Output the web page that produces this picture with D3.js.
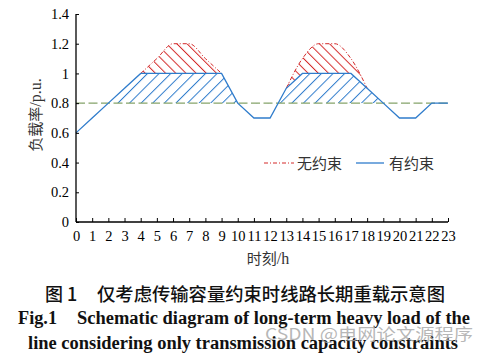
<!DOCTYPE html>
<html><head><meta charset="utf-8">
<script src="https://cdn.jsdelivr.net/npm/d3@7"></script>
<style>body{margin:0;background:#fff}svg{display:block}</style>
</head><body>
<script>
const hours = d3.range(0, 24);
const constrained   = [0.6,0.7,0.8,0.9,1.0,1.0,1.0,1.0,1.0,1.0,0.8,0.7,0.7,0.9,1.0,1.0,1.0,1.0,0.9,0.8,0.7,0.7,0.8,0.8];
const unconstrained = [0.6,0.7,0.8,0.9,1.0,1.1,1.2,1.2,1.1,1.0,0.8,0.7,0.7,0.9,1.1,1.2,1.2,1.1,0.9,0.8,0.7,0.7,0.8,0.8];
const threshold = 0.8;
const yTicks = [0,0.2,0.4,0.6,0.8,1,1.2,1.4];
const legendLabels = ["无约束","有约束"];

const W=491,H=356;
const svg=d3.select("body").append("svg").attr("width",W).attr("height",H);
const x=d3.scaleLinear().domain([0,23]).range([76,448]);
const y=d3.scaleLinear().domain([0,1.4]).range([222,14]);
const BLUE="#2f7ccc", RED="#d42a2a", GREEN="#86a46a";
const serif="'Liberation Serif','Times New Roman',serif";
const cjk="'Noto Sans CJK SC',sans-serif";

const defs=svg.append("defs");
function hatch(id,color,angle,gap){
  const p=defs.append("pattern").attr("id",id).attr("patternUnits","userSpaceOnUse")
    .attr("width",gap).attr("height",gap).attr("patternTransform",`rotate(${angle})`);
  p.append("line").attr("x1",0.5).attr("y1",0).attr("x2",0.5).attr("y2",gap)
    .attr("stroke",color).attr("stroke-width",1);
}
hatch("hb",BLUE,45,8.2);
hatch("hr",RED,-45,7.2);

const pts=hours.map((h,i)=>({h,b:constrained[i],r:unconstrained[i]}));
const diffIdx=i=>[i-1,i,i+1].some(j=>j>=0&&j<24&&constrained[j]!==unconstrained[j]);

// blue hatch: between blue line and threshold, above threshold
defs.append("clipPath").attr("id","above").append("rect")
  .attr("x",x(0)).attr("y",y(1.4)).attr("width",x(23)-x(0)).attr("height",y(threshold)-y(1.4));
const blueArea=d3.area().x(d=>x(d.h)).y0(y(threshold)).y1(d=>y(d.b));
svg.append("path").attr("d",blueArea(pts)).attr("fill","url(#hb)").attr("clip-path","url(#above)");

// red hatch: between red curve and blue line
const redLine=d3.line().defined((d,i)=>diffIdx(i)).x(d=>x(d.h)).y(d=>y(d.r)).curve(d3.curveMonotoneX);
const redArea=d3.area().defined((d,i)=>diffIdx(i)).x(d=>x(d.h)).y0(y(0)).y1(d=>y(d.r)).curve(d3.curveMonotoneX);
const mask=defs.append("mask").attr("id","rmask").attr("maskUnits","userSpaceOnUse")
  .attr("x",0).attr("y",0).attr("width",W).attr("height",H);
mask.append("path").attr("d",redArea(pts)).attr("fill","#fff");
mask.append("path").attr("d",d3.area().x(d=>x(d.h)).y0(y(0)+5).y1(d=>y(d.b))(pts)).attr("fill","#000");
svg.append("rect").attr("x",x(0)).attr("y",y(1.4)).attr("width",x(23)-x(0)).attr("height",y(0)-y(1.4))
  .attr("fill","url(#hr)").attr("mask","url(#rmask)");

// threshold
svg.append("line").attr("x1",x(0)).attr("x2",x(23)).attr("y1",y(threshold)).attr("y2",y(threshold))
  .attr("stroke",GREEN).attr("stroke-width",1.3).attr("stroke-dasharray","9,3.5");

// red dash-dot
svg.append("path").attr("d",redLine(pts)).attr("fill","none").attr("stroke",RED)
  .attr("stroke-width",1).attr("stroke-dasharray","4,2,1,2");
// blue line
svg.append("path").attr("d",d3.line().x(d=>x(d.h)).y(d=>y(d.b))(pts)).attr("fill","none")
  .attr("stroke",BLUE).attr("stroke-width",1.3);

// axes
const gx=svg.append("g").attr("transform",`translate(0,${y(0)})`)
  .call(d3.axisBottom(x).tickValues(hours).tickSize(-4).tickPadding(9).tickFormat(d3.format("d")));
const gy=svg.append("g").attr("transform",`translate(${x(0)},0)`)
  .call(d3.axisLeft(y).tickValues(yTicks).tickSize(-3).tickPadding(7).tickFormat(d=>String(+d.toFixed(1))));
[gx,gy].forEach(g=>{
  g.select(".domain").attr("stroke","#000").attr("stroke-width",1.3);
  g.selectAll(".tick line").attr("stroke","#000");
  g.selectAll("text").attr("font-family",serif).attr("font-size",14.5).attr("fill","#000");
});
gx.select(".domain").attr("d",`M${x(0)},0H${x(23)}`);
gy.select(".domain").attr("d",`M0,${y(1.4)}V${y(0)}`);

// axis titles
const yl=svg.append("text").attr("transform","translate(41,115) rotate(-90)").attr("text-anchor","middle")
  .attr("font-size",15).attr("fill","#333");
yl.append("tspan").attr("font-family",cjk).text("负载率");
yl.append("tspan").attr("font-family",serif).attr("font-size",16).text("/p.u.");
const xl=svg.append("text").attr("x",268).attr("y",264).attr("text-anchor","middle").attr("font-size",15).attr("fill","#333");
xl.append("tspan").attr("font-family",cjk).text("时刻");
xl.append("tspan").attr("font-family",serif).attr("font-size",16).text("/h");

// legend
svg.append("line").attr("x1",264).attr("x2",294).attr("y1",163).attr("y2",163)
  .attr("stroke",RED).attr("stroke-width",1).attr("stroke-dasharray","4,2,1,2");
svg.append("text").attr("x",297).attr("y",168.5).attr("font-family",cjk).attr("font-size",15).attr("fill","#333").text(legendLabels[0]);
svg.append("line").attr("x1",356).attr("x2",384).attr("y1",163).attr("y2",163)
  .attr("stroke",BLUE).attr("stroke-width",1.3);
svg.append("text").attr("x",389).attr("y",168.5).attr("font-family",cjk).attr("font-size",15).attr("fill","#333").text(legendLabels[1]);

// captions
svg.append("text").attr("x",45).attr("y",300.5).attr("font-family",cjk).attr("font-weight",500)
  .attr("font-size",18).attr("fill","#111").text("图 1");
svg.append("text").attr("x",97).attr("y",300.5).attr("font-family",cjk).attr("font-weight",500)
  .attr("font-size",18).attr("fill","#111").attr("textLength",348).attr("lengthAdjust","spacingAndGlyphs")
  .text("仅考虑传输容量约束时线路长期重载示意图");
svg.append("text").attr("x",18).attr("y",324).attr("font-family",serif).attr("font-weight","bold")
  .attr("font-size",18).attr("fill","#111").attr("textLength",39).attr("lengthAdjust","spacingAndGlyphs").text("Fig.1");
svg.append("text").attr("x",77).attr("y",324).attr("font-family",serif).attr("font-weight","bold")
  .attr("font-size",18).attr("fill","#111").attr("textLength",393).attr("lengthAdjust","spacingAndGlyphs")
  .text("Schematic diagram of long-term heavy load of the");
svg.append("text").attr("x",28).attr("y",349).attr("font-family",serif).attr("font-weight","bold")
  .attr("font-size",18).attr("fill","#111").attr("textLength",430).attr("lengthAdjust","spacingAndGlyphs")
  .text("line considering only transmission capacity constraints");
// watermark
svg.append("text").attr("x",265).attr("y",340).attr("font-family",cjk).attr("font-size",16)
  .attr("fill","#aaa").attr("fill-opacity",0.85).attr("textLength",208).attr("lengthAdjust","spacingAndGlyphs")
  .text("CSDN @电网论文源程序");
</script>
</body></html>
